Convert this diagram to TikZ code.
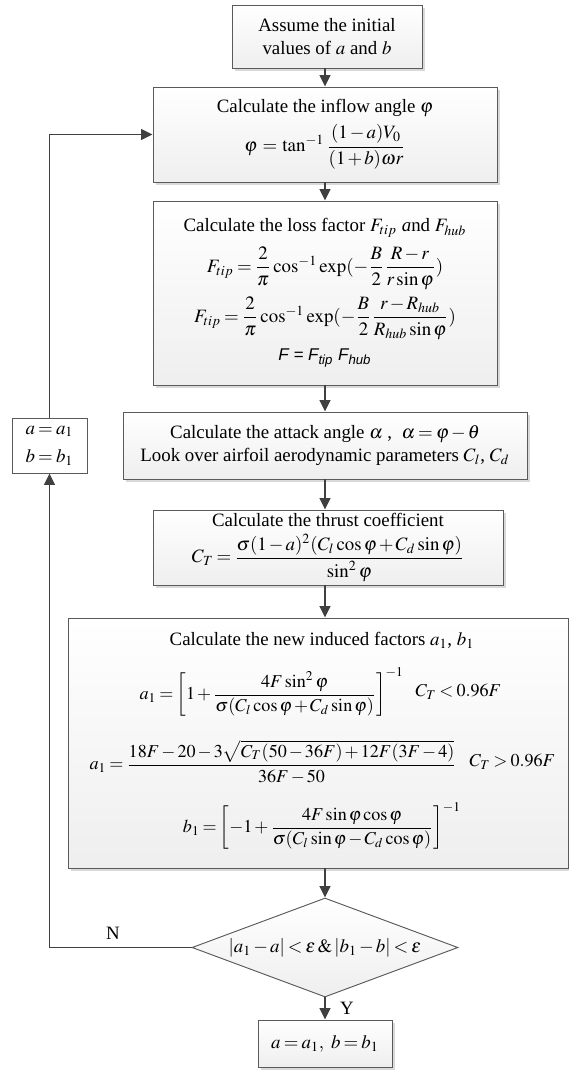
\documentclass[tikz,border=0pt]{standalone}
\usepackage{amsmath}
\usepackage{mathptmx}
\usepackage{fontspec}
\setmainfont{Liberation Serif}
\setsansfont{Liberation Sans}
\usepackage{tikz}
\usetikzlibrary{arrows.meta}
\usetikzlibrary{shapes.geometric}
\usetikzlibrary{shadows}
\definecolor{boxgray}{HTML}{5A5A5A}
\definecolor{linegray}{HTML}{404040}
\medmuskip=2mu plus 1mu minus 1mu
\thickmuskip=3mu plus 2mu
\tikzset{
  wh/.style 2 args={minimum width=#1*0.53pt, minimum height=#2*0.53pt},
  box/.style={draw=boxgray, line width=0.5pt, top color=white, bottom color=gray!13,
    inner sep=0pt, align=center},
  shbox/.style={box, drop shadow={shadow xshift=1.6pt, shadow yshift=-1.6pt, fill=gray!30, opacity=1}},
  flow/.style={draw=linegray, line width=1pt, -{Triangle[width=5.6pt,length=6pt]}},
  eqn/.style={font=\fontsize{9.6}{11.5}\selectfont},
}

\begin{document}
\begin{tikzpicture}[x=0.53pt,y=-0.53pt]
\useasboundingbox (0,0) rectangle (569,1072);
\node[shbox,wh={190}{63}] (start) at (327,36.5) {Assume the initial\\values of $a$ and $b$};
\node[shbox,wh={344}{95}] (inflow) at (325,134.5) {Calculate the inflow angle $\varphi$\\[3pt]
  $\varphi\,=\,\tan^{-1}\dfrac{(1-a)V_0}{(1+b)\omega r}$};
\node[shbox,wh={344}{184}] (loss) at (325,293) {Calculate the loss factor $F_{tip}$ \textit{a}nd $F_{hub}$\\[4pt]
  $F_{tip}=\dfrac{2}{\pi}\cos^{-1}\exp(-\dfrac{B}{2}\dfrac{R-r}{r\sin\varphi})$\\[3pt]
  $F_{tip}=\dfrac{2}{\pi}\cos^{-1}\exp(-\dfrac{B}{2}\dfrac{r-R_{hub}}{R_{hub}\sin\varphi})$\\[4pt]
  {\sffamily\itshape\small F = F\textsubscript{tip} F\textsubscript{hub}}};
\node[shbox,wh={404}{67}] (attack) at (325,445.5) {Calculate the attack angle $\alpha$ ,\ \ $\alpha=\varphi-\theta$\\
  Look over airfoil aerodynamic parameters $C_l$, $C_d$};
\node[shbox,wh={350}{75}] (thrust) at (328,547.5) {Calculate the thrust coefficient\\[3pt]
  $C_T=\dfrac{\sigma(1-a)^2(C_l\cos\varphi+C_d\sin\varphi)}{\sin^2\varphi}$};
\node[shbox,wh={500}{250}] (induced) at (318,743) {};
\node (indtitle) at (322,640) {Calculate the new induced factors $a_1$, $b_1$};
\node[eqn,anchor=west] (afirst) at (133,692) {$a_1=\left[1+\dfrac{4F\sin^2\varphi}{\sigma(C_l\cos\varphi+C_d\sin\varphi)}\right]^{-1}$};
\node[eqn,anchor=east] (cless) at (508,692) {$C_T<0.96F$};
\node[eqn,anchor=west] (asecond) at (83,762) {$a_1=\dfrac{18F-20-3\sqrt{C_T(50-36F)+12F(3F-4)}}{36F-50}$};
\node[eqn,anchor=east] (cmore) at (562,762) {$C_T>0.96F$};
\node[eqn] (bnew) at (322,826) {$b_1=\left[-1+\dfrac{4F\sin\varphi\cos\varphi}{\sigma(C_l\sin\varphi-C_d\cos\varphi)}\right]^{-1}$};
\node[box,diamond,aspect=2.7,wh={266}{99}] (check) at (325,947.5) {$\left|a_1-a\right|<\varepsilon\,\&\left|b_1-b\right|<\varepsilon$};
\node[shbox,wh={134}{47}] (result) at (325,1043.5) {$a=a_1,\ b=b_1$};
\node[box,top color=white,bottom color=white,wh={75}{55}] (update) at (49.5,445.5) {$a=a_1$\\[3pt]$b=b_1$};
\node (nlab) at (113,933) {N};
\node (ylab) at (347,1008) {Y};
\draw[flow] (start.south -| inflow.north) -- (inflow.north);
\draw[flow] (inflow) -- (loss);
\draw[flow] (loss) -- (attack);
\draw[flow] (attack.south) -- (attack.south |- thrust.north);
\draw[flow] (attack.south |- thrust.south) -- (attack.south |- induced.north);
\draw[flow] (check.north |- induced.south) -- (check.north);
\draw[flow] (check) -- (result);
\draw[flow] (check.west) -| (update.south);
\draw[flow] (update.north) |- (inflow.west);
\end{tikzpicture}
\end{document}
